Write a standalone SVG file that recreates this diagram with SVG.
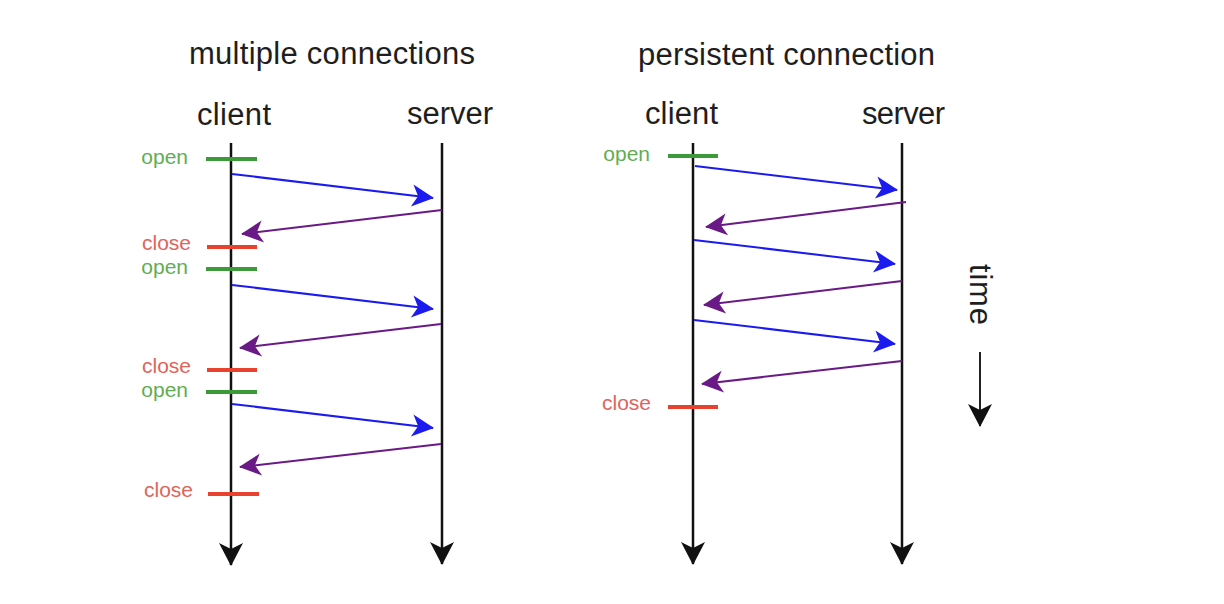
<svg xmlns="http://www.w3.org/2000/svg" width="1224" height="604" viewBox="0 0 1224 604">
  <style>
    .title { font-family: "Liberation Sans", Arial, sans-serif; font-size: 31px; fill: #1e1e1e; }
    .lbl { font-family: "Liberation Sans", Arial, sans-serif; font-size: 21px; text-anchor: end; }
    .open-t { fill: #62ad52; }
    .close-t { fill: #e0645c; }
    .life { stroke: #111; stroke-width: 2.5; fill: none; }
    .bar-open { stroke: #3d9a3a; stroke-width: 4; }
    .bar-close { stroke: #e8422e; stroke-width: 4; }
    .req { stroke: #1b1bf0; stroke-width: 2; fill: none; }
    .resp { stroke: #6a1a86; stroke-width: 2; fill: none; }
  </style>
  <defs>
    <marker id="hk" viewBox="-25 -13 27 26" refX="0" refY="0" markerWidth="27" markerHeight="26" markerUnits="userSpaceOnUse" orient="auto">
      <path d="M1,0 L-22,-12 L-16,0 L-22,12 Z" fill="#111"/>
    </marker>
    <marker id="hb" viewBox="-24 -12 26 24" refX="0" refY="0" markerWidth="26" markerHeight="24" markerUnits="userSpaceOnUse" orient="auto">
      <path d="M1,0 L-21,-11 L-15,0 L-21,11 Z" fill="#1b1bf0"/>
    </marker>
    <marker id="hp" viewBox="-24 -12 26 24" refX="0" refY="0" markerWidth="26" markerHeight="24" markerUnits="userSpaceOnUse" orient="auto">
      <path d="M1,0 L-21,-11 L-15,0 L-21,11 Z" fill="#6a1a86"/>
    </marker>
  </defs>
  <rect width="1224" height="604" fill="#ffffff"/>

  <g id="titles">
    <text class="title" x="189" y="64" textLength="286" lengthAdjust="spacing">multiple connections</text>
    <text class="title" x="638" y="65" textLength="297" lengthAdjust="spacing">persistent connection</text>
  </g>

  <g id="left-client">
    <text class="title" x="197" y="125" textLength="74" lengthAdjust="spacing">client</text>
    <line class="life" x1="231" y1="143" x2="231" y2="565" marker-end="url(#hk)"/>
  </g>
  <g id="left-server">
    <text class="title" x="407" y="124" textLength="86" lengthAdjust="spacing">server</text>
    <line class="life" x1="442" y1="143" x2="442" y2="564" marker-end="url(#hk)"/>
  </g>
  <g id="right-client">
    <text class="title" x="645" y="124" textLength="73" lengthAdjust="spacing">client</text>
    <line class="life" x1="693" y1="143" x2="693" y2="564" marker-end="url(#hk)"/>
  </g>
  <g id="right-server">
    <text class="title" x="862" y="124" textLength="83" lengthAdjust="spacing">server</text>
    <line class="life" x1="902" y1="143" x2="902" y2="564" marker-end="url(#hk)"/>
  </g>

  <g id="left-events">
    <line class="bar-open" x1="206" y1="159" x2="257" y2="159"/>
    <text class="lbl open-t" x="188" y="164">open</text>
    <line class="bar-close" x1="207" y1="247" x2="257" y2="247"/>
    <text class="lbl close-t" x="191" y="250">close</text>
    <line class="bar-open" x1="206" y1="269" x2="257" y2="269"/>
    <text class="lbl open-t" x="188" y="274">open</text>
    <line class="bar-close" x1="207" y1="370" x2="257" y2="370"/>
    <text class="lbl close-t" x="191" y="373">close</text>
    <line class="bar-open" x1="206" y1="392" x2="257" y2="392"/>
    <text class="lbl open-t" x="188" y="397">open</text>
    <line class="bar-close" x1="208" y1="494" x2="259" y2="494"/>
    <text class="lbl close-t" x="193" y="497">close</text>
  </g>

  <g id="right-events">
    <line class="bar-open" x1="668" y1="156" x2="718" y2="156"/>
    <text class="lbl open-t" x="650" y="161">open</text>
    <line class="bar-close" x1="668" y1="407" x2="718" y2="407"/>
    <text class="lbl close-t" x="651" y="410">close</text>
  </g>

  <g id="connectors">
    <line class="req" x1="232" y1="174" x2="433" y2="198" marker-end="url(#hb)"/>
    <line class="resp" x1="442" y1="210" x2="242" y2="234" marker-end="url(#hp)"/>
    <line class="req" x1="232" y1="285" x2="433" y2="309" marker-end="url(#hb)"/>
    <line class="resp" x1="441" y1="324" x2="240" y2="348" marker-end="url(#hp)"/>
    <line class="req" x1="232" y1="404" x2="433" y2="428" marker-end="url(#hb)"/>
    <line class="resp" x1="441" y1="444" x2="240" y2="467" marker-end="url(#hp)"/>

    <line class="req" x1="695" y1="166" x2="897" y2="190" marker-end="url(#hb)"/>
    <line class="resp" x1="906" y1="202" x2="706" y2="227" marker-end="url(#hp)"/>
    <line class="req" x1="694" y1="240" x2="895" y2="264" marker-end="url(#hb)"/>
    <line class="resp" x1="902" y1="281" x2="704" y2="305" marker-end="url(#hp)"/>
    <line class="req" x1="694" y1="320" x2="895" y2="344" marker-end="url(#hb)"/>
    <line class="resp" x1="902" y1="361" x2="702" y2="384" marker-end="url(#hp)"/>
  </g>

  <g id="time">
    <text class="title" transform="translate(970,264) rotate(90)" x="0" y="0" textLength="61" lengthAdjust="spacing">time</text>
    <line x1="980" y1="352" x2="980" y2="426" stroke="#222" stroke-width="2" marker-end="url(#hk)"/>
  </g>
</svg>
